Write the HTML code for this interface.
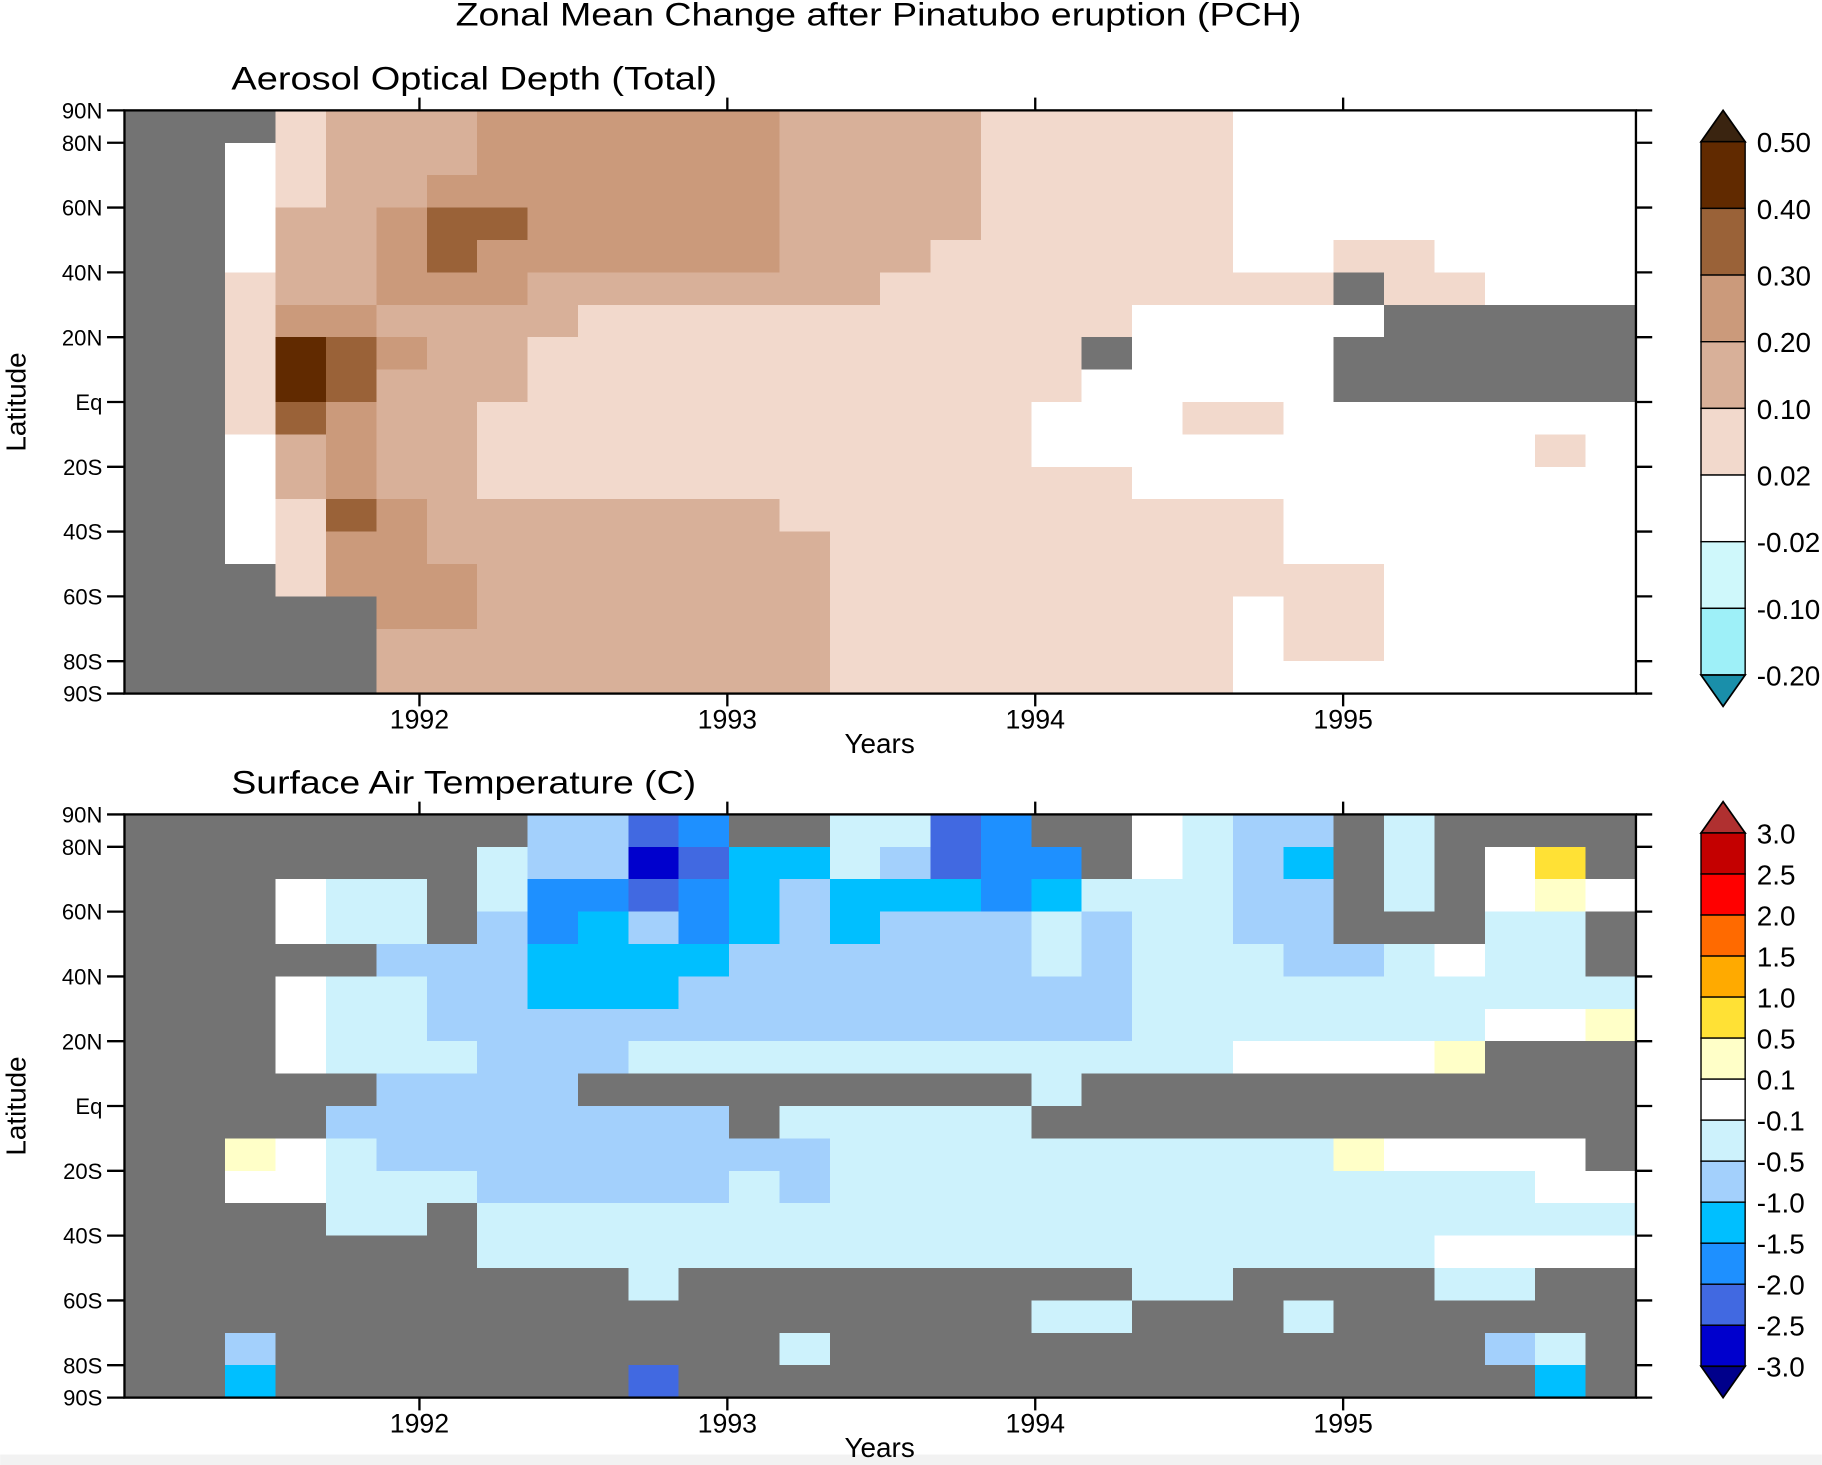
<!DOCTYPE html>
<html><head><meta charset="utf-8"><title>Zonal Mean Change after Pinatubo eruption (PCH)</title>
<style>html,body{margin:0;padding:0;background:#fff;}svg{display:block;font-family:"Liberation Sans",sans-serif;}</style>
</head><body>
<svg id="fig" xmlns="http://www.w3.org/2000/svg" width="1822" height="1465" viewBox="0 0 1568 1261">
<rect x="0" y="0" width="1568" height="1261" fill="#fff"/>
<rect x="0" y="1252" width="1568" height="9" fill="#f2f2f2"/>
<text x="392" y="22" font-size="28" textLength="728" lengthAdjust="spacingAndGlyphs">Zonal Mean Change after Pinatubo eruption (PCH)</text>
<text x="199" y="77" font-size="28" textLength="418" lengthAdjust="spacingAndGlyphs">Aerosol Optical Depth (Total)</text>
<text x="199" y="683" font-size="28" textLength="400" lengthAdjust="spacingAndGlyphs">Surface Air Temperature (C)</text>
<g id="p1"></g>
<g id="p2"></g>
<g id="cb1"></g>
<g id="cb2"></g>
</svg>
<script>
const aodRows = [
"ggg122233333322221111100000000",
"gg0122233333322221111100000000",
"gg0122333333322221111100000000",
"gg0223443333322221111100000000",
"gg0223433333322211111100110000",
"gg1223332222222111111111g11000",
"gg13322221111111111100000ggggg",
"gg15432211111111111g0000gggggg",
"gg1542221111111111100000gggggg",
"gg1432211111111111000110000000",
"gg0232211111111111000000000010",
"gg0232211111111111110000000000",
"gg0143222222211111111110000000",
"gg0133222222221111111110000000",
"ggg133322222221111111111100000",
"ggggg3322222221111111101100000",
"ggggg2222222221111111101100000",
"ggggg2222222221111111100000000"
];
const satRows = [
"ggggggggbbedggaaedgg0abbgagggg",
"gggggggabbfeccabeddg0abcgag0Yg",
"ggg0aagaddedcbcccdcaaabbgag0y0",
"ggg0aagbdcbdcbcbbbabaabbgggaag",
"gggggbbbccccbbbbbbabaaabba0aag",
"ggg0aabbcccbbbbbbbbbaaaaaaaaaa",
"ggg0aabbbbbbbbbbbbbbaaaaaaa00y",
"ggg0aaabbbaaaaaaaaaaaa0000yggg",
"gggggbbbbgggggggggaggggggggggg",
"ggggbbbbbbbbgaaaaagggggggggggg",
"ggy0abbbbbbbbbaaaaaaaaaay0000g",
"gg00aaabbbbbabaaaaaaaaaaaaaa00",
"ggggaagaaaaaaaaaaaaaaaaaaaaaaa",
"gggggggaaaaaaaaaaaaaaaaaaa0000",
"ggggggggggagggggggggaaggggaagg",
"ggggggggggggggggggaagggagggggg",
"ggbggggggggggagggggggggggggbag",
"ggcgggggggegggggggggggggggggcg"
];
const yearTicks = [1992, 1993, 1994, 1995];
const latTicks = [90, 80, 60, 40, 20, 0, -20, -40, -60, -80, -90];
const latTickLabels = ["90N","80N","60N","40N","20N","Eq","20S","40S","60S","80S","90S"];
const aodLevelLabels = ["0.50","0.40","0.30","0.20","0.10","0.02","-0.02","-0.10","-0.20"];
const satLevelLabels = ["3.0","2.5","2.0","1.5","1.0","0.5","0.1","-0.1","-0.5","-1.0","-1.5","-2.0","-2.5","-3.0"];
const tStart = 1991.042, tEnd = 1995.951;

const aodColors = {g:"#737373","0":"#ffffff","1":"#f2d9cc","2":"#d8b099","3":"#cb9a7b","4":"#9a6238","5":"#612a00"};
const satColors = {g:"#737373","0":"#ffffff",a:"#cdf2fc",b:"#a3d0fc",c:"#00bfff",d:"#1e90ff",e:"#4169e1",f:"#0000cd",h:"#00008b",y:"#ffffc8",Y:"#ffe135"};
const aodBoxColors = ["#612a00","#9a6238","#cb9a7b","#d8b099","#f2d9cc","#ffffff","#cff8fb","#9ef0f8"];
const satBoxColors = ["#c40000","#ff0000","#ff6a00","#ffaa00","#ffe135","#ffffc8","#ffffff","#cdf2fc","#a3d0fc","#00bfff","#1e90ff","#4169e1","#0000cd"];

const NS = "http://www.w3.org/2000/svg";
const X0 = 107, X1 = 1408;
function xScale(t){ return X0 + (t - tStart) / (tEnd - tStart) * (X1 - X0); }
function el(tag, parent){ const e = document.createElementNS(NS, tag); parent.appendChild(e); return e; }

function drawPanel(g, top, rows, colors, key){
  const H = 502;
  const yScale = lat => top + (90 - lat) / 180 * H;
  const nR = rows.length, nC = rows[0].length;
  const dt = (tEnd - tStart) / nC;
  const cells = el("g", g);
  
  
  cells.setAttribute("shape-rendering", "crispEdges");
  for (let j = 0; j < nR; j++){
    const latTop = 90 - j * 180 / nR, latBot = 90 - (j + 1) * 180 / nR;
    for (let i = 0; i < rows[j].length; i++){
      const c = rows[j][i];
      const xa = xScale(tStart + i * dt), xb = xScale(tStart + (i + 1) * dt);
      const r = el("rect", cells);
      
      
      r.setAttribute("x", xa); r.setAttribute("y", yScale(latTop));
      r.setAttribute("width", xb - xa + 0.6); r.setAttribute("height", yScale(latBot) - yScale(latTop) + 0.6);
      r.setAttribute("fill", colors[c] || "#fff");
    }
  }
  const frame = el("rect", g);
  
  
  frame.setAttribute("x", X0); frame.setAttribute("y", top); frame.setAttribute("width", X1 - X0); frame.setAttribute("height", H);
  frame.setAttribute("fill", "none"); frame.setAttribute("stroke", "#000"); frame.setAttribute("stroke-width", "2");
  latTicks.forEach((lat, k) => {
    const y = yScale(lat);
    const tl = el("line", g);
    
    
    tl.setAttribute("x1", 92); tl.setAttribute("x2", X0); tl.setAttribute("y1", y); tl.setAttribute("y2", y);
    tl.setAttribute("stroke", "#000"); tl.setAttribute("stroke-width", "2");
    const tr = el("line", g);
    
    
    tr.setAttribute("x1", X1); tr.setAttribute("x2", 1422); tr.setAttribute("y1", y); tr.setAttribute("y2", y);
    tr.setAttribute("stroke", "#000"); tr.setAttribute("stroke-width", "2");
    const lb = el("text", g);
    
    
    lb.setAttribute("x", 88); lb.setAttribute("y", y + 7); lb.setAttribute("font-size", "19"); lb.setAttribute("text-anchor", "end");
    lb.textContent = latTickLabels[k];
  });
  yearTicks.forEach(yr => {
    const x = xScale(yr);
    const t1 = el("line", g);
    
    
    t1.setAttribute("x1", x); t1.setAttribute("x2", x); t1.setAttribute("y1", top - 11); t1.setAttribute("y2", top);
    t1.setAttribute("stroke", "#000"); t1.setAttribute("stroke-width", "2");
    const t2 = el("line", g);
    
    
    t2.setAttribute("x1", x); t2.setAttribute("x2", x); t2.setAttribute("y1", top + H); t2.setAttribute("y2", top + H + 11);
    t2.setAttribute("stroke", "#000"); t2.setAttribute("stroke-width", "2");
    const lb = el("text", g);
    
    
    lb.setAttribute("x", x); lb.setAttribute("y", top + H + 30); lb.setAttribute("font-size", "23"); lb.setAttribute("text-anchor", "middle");
    lb.textContent = String(yr);
  });
  const xt = el("text", g);
  
  
  xt.setAttribute("x", 757); xt.setAttribute("y", top + H + 51); xt.setAttribute("font-size", "24"); xt.setAttribute("text-anchor", "middle");
  xt.textContent = "Years";
  const yt = el("text", g);
  
  
  yt.setAttribute("transform", "translate(22," + (top + H / 2) + ") rotate(-90)");
  yt.setAttribute("font-size", "24"); yt.setAttribute("text-anchor", "middle");
  yt.textContent = "Latitude";
}

function drawColorbar(g, top, bottom, boxColors, labels, triTop, triBot, key){
  const x0 = 1464, w = 38, tri = 27;
  const y0 = top + tri, y1 = bottom - tri;
  const n = boxColors.length, h = (y1 - y0) / n;
  const tt = el("polygon", g);
  
  
  tt.setAttribute("points", x0 + "," + y0 + " " + (x0 + w) + "," + y0 + " " + (x0 + w / 2) + "," + top);
  tt.setAttribute("fill", triTop); tt.setAttribute("stroke", "#000"); tt.setAttribute("stroke-width", "1.5");
  boxColors.forEach((c, k) => {
    const r = el("rect", g);
    
    
    r.setAttribute("x", x0); r.setAttribute("y", y0 + k * h); r.setAttribute("width", w); r.setAttribute("height", h);
    r.setAttribute("fill", c); r.setAttribute("stroke", "#000"); r.setAttribute("stroke-width", "1.2");
  });
  const tb = el("polygon", g);
  
  
  tb.setAttribute("points", x0 + "," + y1 + " " + (x0 + w) + "," + y1 + " " + (x0 + w / 2) + "," + bottom);
  tb.setAttribute("fill", triBot); tb.setAttribute("stroke", "#000"); tb.setAttribute("stroke-width", "1.5");
  labels.forEach((s, k) => {
    const t = el("text", g);
    
    
    t.setAttribute("x", 1512); t.setAttribute("y", y0 + k * h + 9); t.setAttribute("font-size", "24");
    t.textContent = s;
  });
}

drawPanel(document.getElementById("p1"), 95, aodRows, aodColors, "aod");
drawPanel(document.getElementById("p2"), 701, satRows, satColors, "sat");
drawColorbar(document.getElementById("cb1"), 95, 608, aodBoxColors, aodLevelLabels, "#3a2410", "#1a8faa", "aod");
drawColorbar(document.getElementById("cb2"), 690, 1203, satBoxColors, satLevelLabels, "#b03030", "#00008b", "sat");
</script>
</body></html>
